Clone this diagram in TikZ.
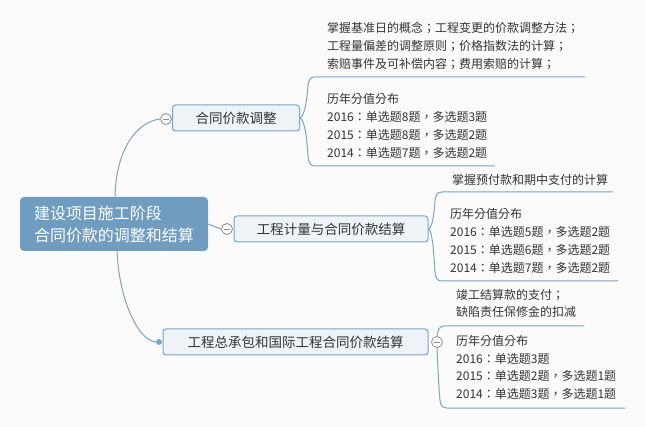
\documentclass[tikz,border=0pt]{standalone}
\usepackage{fontspec}
\setmainfont{Noto Sans CJK TC}
\definecolor{bgc}{HTML}{FBFBFB}
\definecolor{lineblue}{HTML}{7BA4C6}
\definecolor{rootfill}{HTML}{709DBF}
\definecolor{boxfill}{HTML}{EEF3F8}
\definecolor{txt}{HTML}{333333}
\definecolor{btngray}{HTML}{8C8C8C}
\tikzset{
  conn/.style={draw=lineblue, line width=1pt},
  rootbox/.style={fill=rootfill, rounded corners=4pt, text=white, align=left,
    font=\fontsize{16}{22}\selectfont, minimum width=188pt, minimum height=54pt, inner sep=0pt},
  branchbox/.style={draw=lineblue, line width=1pt, fill=boxfill, rounded corners=3pt, text=txt,
    font=\fontsize{13.5}{16}\selectfont, minimum height=26pt, inner sep=0pt},
  leaf/.style={anchor=base west, inner sep=0pt, text=txt, font=\fontsize{12}{18}\selectfont},
  btn/.style={circle, draw=btngray, fill=white, line width=0.8pt, minimum size=11pt, inner sep=0pt},
  dotn/.style={circle, fill=lineblue, minimum size=6pt, inner sep=0pt},
}
\begin{document}
\begin{tikzpicture}[x=1pt, y=-1pt]
\fill[bgc] (0,0) rectangle (645,427);
\useasboundingbox (0,0) rectangle (645,427);

% root
\node[rootbox] (root) at (114,224) {建设项目施工阶段\\合同价款的调整和结算};

% branches
\node[branchbox, minimum width=127pt] (b1) at (236,118) {合同价款调整};
\node[branchbox, minimum width=194pt] (b2) at (331,229) {工程计量与合同价款结算};
\node[branchbox, minimum width=265pt] (b3) at (295.5,342) {工程总承包和国际工程合同价款结算};

% buttons
\node[btn] (c1) at (166,119) {};
\node[btn] (c2) at (227,229) {};
\node[btn] (c3) at (437,342) {};
\foreach \n in {c1,c2,c3} \draw[btngray, line width=0.8pt] ([xshift=-3pt]\n.center) -- ([xshift=3pt]\n.center);
\node[dotn] (d3) at (159,342) {};

% root connectors
\draw[conn] ([xshift=1pt]root.north) .. controls (116,150) and (136,122) .. (c1.west);
\draw[conn] (root.east) -- (c2.west);
\draw[conn] ([xshift=3pt]root.south) .. controls (119,298) and (137,340) .. (d3.west);

% leaf underline end points
\coordinate (u1a) at (585,77);
\coordinate (u1b) at (495,166);
\coordinate (u2a) at (613,192);
\coordinate (u2b) at (618,281);
\coordinate (u3a) at (584,326);
\coordinate (u3b) at (625,408);

% branch 1 leaves
\draw[conn] (b1.east) .. controls (305,116) and (307,98) .. (308,86) .. controls (308.5,80) and (310,77) .. (315,77) -- (u1a);
\draw[conn] (b1.east) .. controls (305,120) and (307,140) .. (308,156) .. controls (308.5,162) and (310,166) .. (315,166) -- (u1b);
% branch 2 leaves
\draw[conn] (b2.east) .. controls (433,227) and (434,212) .. (435,201) .. controls (435.5,195) and (437,192) .. (442,192) -- (u2a);
\draw[conn] (b2.east) .. controls (433,231) and (434,260) .. (435,272) .. controls (435.5,278) and (437,281) .. (442,281) -- (u2b);
% branch 3 leaves
\draw[conn] (c3.north) .. controls (437.5,331) and (439,326) .. (444,326) -- (u3a);
\draw[conn] (c3.south) .. controls (438,370) and (439,392) .. (440,400) .. controls (440.5,405) and (442,408) .. (447,408) -- (u3b);

% leaf texts
\foreach \t [count=\i] in {掌握基准日的概念；工程变更的价款调整方法；, 工程量偏差的调整原则；价格指数法的计算；, 索赔事件及可补偿内容；费用索赔的计算；}
  \node[leaf] (t1a-\i) at (327,{32.5+(\i-1)*18}) {\t};
\foreach \t [count=\i] in {历年分值分布, 2016：单选题8题，多选题3题, 2015：单选题8题，多选题2题, 2014：单选题7题，多选题2题}
  \node[leaf] (t1b-\i) at (327,{103.5+(\i-1)*18}) {\t};
\node[leaf] (t2a-1) at (452,184.5) {掌握预付款和期中支付的计算};
\foreach \t [count=\i] in {历年分值分布, 2016：单选题5题，多选题2题, 2015：单选题6题，多选题2题, 2014：单选题7题，多选题2题}
  \node[leaf] (t2b-\i) at (450,{218.5+(\i-1)*18}) {\t};
\foreach \t [count=\i] in {竣工结算款的支付；, 缺陷责任保修金的扣减}
  \node[leaf] (t3a-\i) at (456,{299.5+(\i-1)*17.5}) {\t};
\foreach \t [count=\i] in {历年分值分布, 2016：单选题3题, 2015：单选题2题，多选题1题, 2014：单选题3题，多选题1题}
  \node[leaf] (t3b-\i) at (456,{345.5+(\i-1)*17.7}) {\t};
\end{tikzpicture}
\end{document}
